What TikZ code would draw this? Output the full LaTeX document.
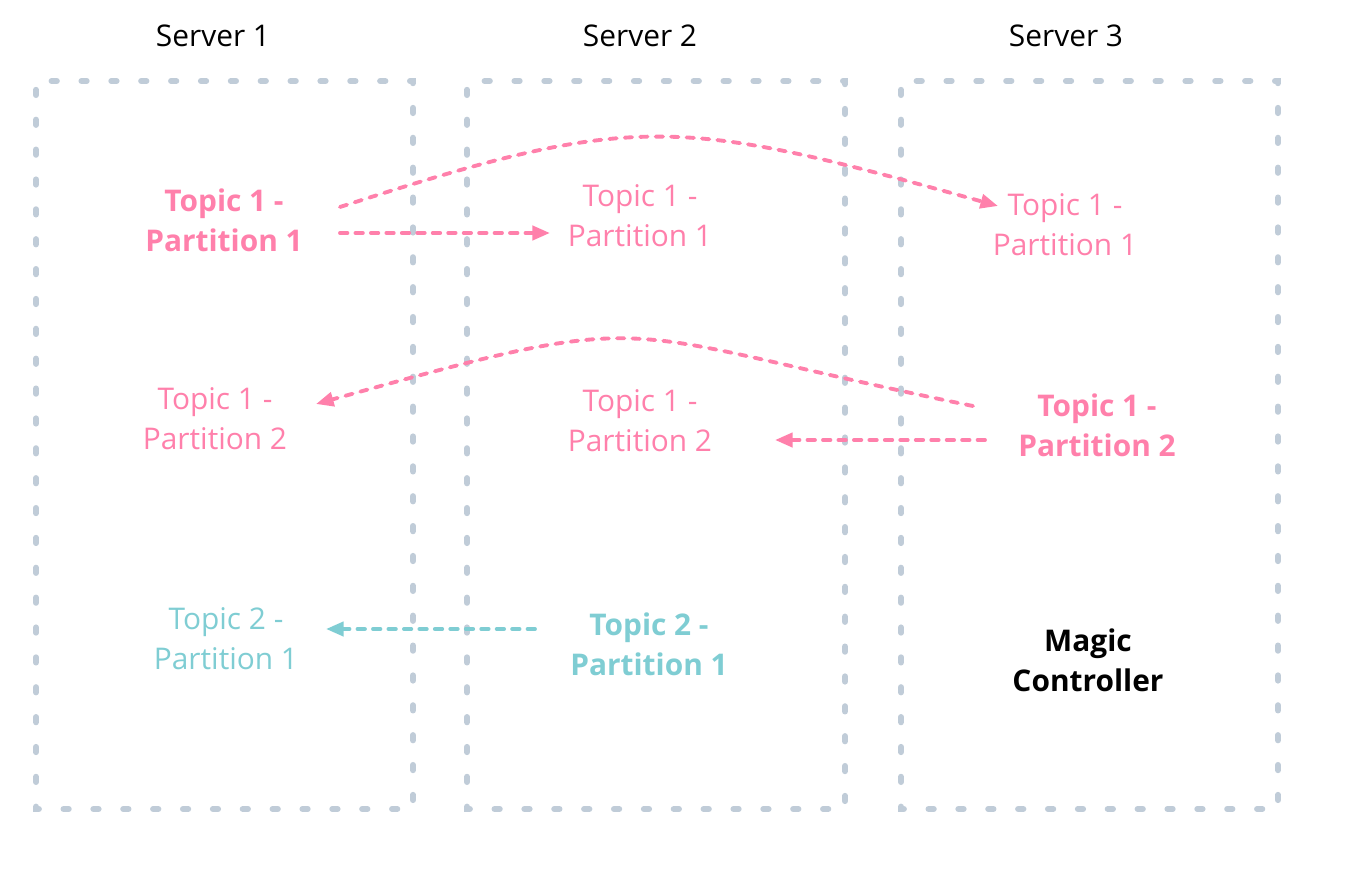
\documentclass[tikz,border=0pt]{standalone}
\usepackage{fontspec}
\setmainfont{Open Sans}
\usetikzlibrary{positioning,calc,arrows.meta}
\definecolor{kpink}{HTML}{FF80AB}
\definecolor{kteal}{HTML}{7FCDD3}
\definecolor{kgrey}{HTML}{C0CCD8}

\begin{document}
\begin{tikzpicture}[x=0.02cm,y=0.02cm,
  txt/.style={align=center,inner sep=0pt,font=\fontsize{17}{22.7}\selectfont},
  lead/.style={txt,font=\fontsize{17}{22.7}\selectfont\bfseries},
  box/.style={draw=kgrey,line width=3.4pt,line cap=round,dash pattern=on 3pt off 14pt,dash phase=12pt},
  link/.style={dash pattern=on 4.2pt off 4.6pt,line width=2.2pt,line cap=round,-{Triangle[length=10pt,width=8pt]}}]
     \useasboundingbox (0,0) rectangle (1350,-882);

     % servers
     \node[txt] (srv1) at (213,-36) {Server 1};
     \node[txt] (srv2) at (640,-36) {Server 2};
     \node[txt] (srv3) at (1066,-36) {Server 3};
     \draw[box] (36,-81) rectangle (413,-809);
     \draw[box] (467,-81) rectangle (845,-809);
     \draw[box] (901,-81) rectangle (1278,-809);

     % partitions
     \node[lead,text=kpink] (p1s1) at (224,-220) {Topic 1 -\\Partition 1};
     \node[txt,text=kpink] (p1s2) at (640,-216) {Topic 1 -\\Partition 1};
     \node[txt,text=kpink] (p1s3) at (1065,-225) {Topic 1 -\\Partition 1};
     \node[txt,text=kpink] (p2s1) at (215,-419) {Topic 1 -\\Partition 2};
     \node[txt,text=kpink] (p2s2) at (640,-421) {Topic 1 -\\Partition 2};
     \node[lead,text=kpink] (p2s3) at (1097,-425) {Topic 1 -\\Partition 2};
     \node[txt,text=kteal] (t2s1) at (226,-639) {Topic 2 -\\Partition 1};
     \node[lead,text=kteal] (t2s2) at (649,-644) {Topic 2 -\\Partition 1};
     \node[lead] (ctrl) at (1088,-660) {Magic\\Controller};

     % replication
     \draw[link,kpink] ($(p1s1.center)+(116,-13)$) -- ($(p1s2.center)+(-90,-17)$);
     \draw[link,kpink] ($(p1s1.center)+(116,13)$) .. controls (635,-112) and (675,-116) .. ($(p1s3.center)+(-67,19)$);
     \draw[link,kpink] ($(p2s3.center)+(-124,19)$) .. controls (600,-330) and (670,-305) .. ($(p2s1.center)+(101,15)$);
     \draw[link,kpink] ($(p2s3.center)+(-112,-15)$) -- ($(p2s2.center)+(135,-19)$);
     \draw[link,kteal] ($(t2s2.center)+(-114,15)$) -- ($(t2s1.center)+(100,10)$);
\end{tikzpicture}
\end{document}
